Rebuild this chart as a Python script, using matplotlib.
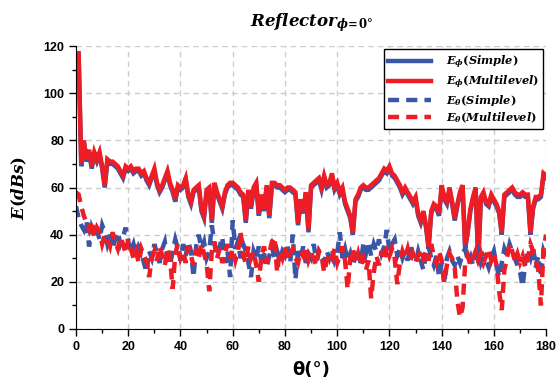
import numpy as np
import matplotlib.pyplot as plt

plt.rcParams['mathtext.fontset'] = 'custom'
plt.rcParams['mathtext.it'] = 'DejaVu Serif:italic:bold'
plt.rcParams['mathtext.rm'] = 'DejaVu Serif:bold'
plt.rcParams['mathtext.bf'] = 'DejaVu Serif:bold'

theta = np.arange(0, 181)

# E_phi (Multilevel), 1 grado de paso
ephi_multi = [117, 117, 70, 80, 72, 76, 69, 75, 72, 75,
              69, 61, 72, 71, 71, 70, 69, 67, 65, 69,
              68, 69, 67, 68, 68, 66, 67, 64, 62, 65,
              68, 62, 59, 61, 64, 67, 62, 59, 55, 61,
              60, 61, 64, 57, 54, 59, 60, 61, 51, 48,
              59, 60, 46, 62, 58, 55, 52, 58, 61, 62,
              62, 61, 60, 58, 57, 46, 59, 52, 60, 62,
              49, 57, 51, 61, 48, 62, 62, 61, 61, 60,
              59, 60, 60, 59, 58, 45, 55, 50, 58, 42,
              61, 62, 63, 64, 60, 65, 61, 62, 66, 60,
              62, 58, 60, 54, 51, 48, 41, 55, 57, 60,
              61, 60, 60, 61, 62, 63, 64, 66, 68, 67,
              69, 66, 65, 63, 61, 58, 60, 58, 56, 54,
              56, 49, 46, 50, 44, 35, 50, 53, 52, 49,
              61, 56, 54, 60, 54, 47, 53, 58, 61, 35,
              42, 51, 56, 60, 29, 56, 58, 54, 53, 57,
              55, 53, 50, 41, 57, 58, 59, 60, 58, 57,
              57, 58, 57, 57, 41, 52, 56, 56, 57, 66,
              65]

# E_phi (Simple): casi igual, algo mas bajo en algunos tramos
ephi_simple = [116, 116, 69, 79, 71, 75, 68, 74, 71, 74,
               68, 60, 71, 70, 70, 69, 68, 66, 64, 68,
               67, 68, 66, 67, 67, 65, 66, 63, 61, 64,
               67, 61, 58, 60, 63, 66, 61, 58, 54, 60,
               59, 60, 63, 56, 53, 58, 59, 60, 50, 47,
               58, 59, 45, 61, 57, 54, 51, 57, 60, 61,
               61, 60, 59, 57, 56, 45, 58, 51, 59, 61,
               48, 56, 50, 60, 47, 61, 61, 60, 60, 59,
               58, 59, 59, 58, 57, 44, 54, 49, 57, 41,
               60, 61, 62, 63, 59, 64, 60, 61, 65, 59,
               61, 57, 59, 53, 50, 47, 40, 54, 56, 59,
               60, 59, 59, 60, 61, 62, 63, 65, 67, 66,
               68, 65, 64, 62, 60, 57, 59, 57, 55, 53,
               55, 48, 45, 49, 43, 34, 49, 52, 51, 48,
               60, 55, 53, 59, 53, 46, 52, 57, 60, 34,
               41, 50, 55, 59, 28, 55, 57, 53, 52, 56,
               54, 52, 49, 40, 56, 57, 58, 59, 57, 56,
               56, 57, 56, 56, 40, 51, 55, 55, 56, 65,
               64]

# E_theta (Simple)
eth_simple = [52, 47, 44, 42, 46, 35, 43, 40, 42, 38,
              44, 41, 36, 40, 34, 38, 41, 36, 39, 43,
              37, 33, 36, 31, 35, 33, 28, 24, 33, 30,
              36, 32, 28, 34, 37, 30, 27, 33, 38, 34,
              29, 36, 31, 37, 33, 22, 35, 40, 34, 37,
              30, 33, 44, 36, 31, 35, 39, 28, 33, 22,
              46, 34, 37, 30, 36, 33, 28, 22, 33, 30,
              35, 28, 32, 26, 31, 35, 30, 33, 29, 33,
              31, 35, 28, 40, 21, 33, 30, 35, 28, 32,
              30, 36, 29, 33, 31, 28, 33, 30, 34, 29,
              32, 41, 30, 34, 29, 32, 27, 31, 34, 28,
              36, 32, 37, 31, 36, 33, 38, 32, 35, 42,
              33, 36, 38, 31, 34, 30, 33, 29, 35, 31,
              28, 33, 29, 25, 32, 35, 30, 27, 31, 22,
              28, 19, 30, 33, 29, 27, 31, 28, 32, 34,
              29, 31, 27, 30, 33, 28, 31, 29, 26, 30,
              33, 27, 22, 28, 34, 31, 36, 33, 30, 27,
              24, 18, 28, 33, 30, 35, 26, 31, 22, 33,
              30]

# E_theta (Multilevel)
eth_multi = [58, 57, 52, 48, 45, 42, 46, 39, 43, 41,
             36, 40, 38, 35, 41, 37, 34, 39, 36, 32,
             38, 34, 30, 33, 28, 34, 31, 29, 22, 30,
             33, 29, 35, 31, 27, 34, 30, 17, 32, 36,
             30, 33, 28, 35, 31, 27, 34, 30, 36, 32,
             28, 16, 33, 37, 30, 34, 28, 32, 36, 30,
             34, 29, 33, 41, 31, 28, 35, 30, 33, 27,
             20, 31, 35, 28, 32, 37, 39, 24, 33, 30,
             35, 29, 32, 34, 30, 28, 33, 31, 35, 29,
             32, 30, 27, 33, 31, 24, 29, 32, 30, 34,
             28, 31, 35, 29, 17, 30, 34, 28, 32, 27,
             30, 25, 29, 13, 24, 31, 27, 33, 29, 35,
             31, 34, 30, 19, 28, 33, 30, 34, 29, 32,
             28, 31, 34, 30, 33, 29, 36, 31, 28, 33,
             29, 20, 27, 32, 30, 26, 12, 5, 9, 28,
             31, 27, 30, 33, 29, 32, 28, 31, 34, 29,
             32, 27, 16, 8, 25, 30, 36, 33, 29, 32,
             28, 31, 26, 30, 36, 33, 29, 25, 10, 34,
             40]

azul = '#3a56a6'
rojo = '#ee1c25'

fig = plt.figure(figsize=(5.59, 3.87), dpi=100)
ax = fig.add_axes([0.136, 0.150, 0.841, 0.731])

estilo = dict(lw=3.2, solid_joinstyle='miter', dash_joinstyle='miter',
              dash_capstyle='butt')
ax.plot(theta, ephi_simple, color=azul, label=r'$E_\phi(Simple)$', **estilo)
ax.plot(theta, ephi_multi, color=rojo, label=r'$E_\phi(Multilevel)$', **estilo)
ax.plot(theta, eth_simple, color=azul, ls=(0, (2.5, 1.6)),
        label=r'$E_\theta(Simple)$', **estilo)
ax.plot(theta, eth_multi, color=rojo, ls=(0, (2.5, 1.6)),
        label=r'$E_\theta(Multilevel)$', **estilo)

ax.set_xlim(0, 180)
ax.set_ylim(0, 120)
ax.set_xticks(np.arange(0, 181, 20))
ax.set_xticks(np.arange(10, 180, 20), minor=True)
ax.set_yticks(np.arange(0, 121, 20))
ax.set_yticks(np.arange(10, 120, 20), minor=True)
ax.tick_params(which='major', direction='out', length=5, width=1)
ax.tick_params(which='minor', direction='out', length=3, width=1)
for lbl in ax.get_xticklabels() + ax.get_yticklabels():
    lbl.set_fontfamily('Liberation Sans')
    lbl.set_fontweight('bold')
    lbl.set_fontsize(9)

ax.spines['top'].set_visible(False)
ax.spines['right'].set_visible(False)
ax.grid(True, which='major', color='#cccccc', ls=(0, (4, 3)), lw=1)
ax.set_axisbelow(True)

ax.set_title(r'$Reflector_{\phi\!=\!0°}$', fontsize=12, pad=14)
ax.set_ylabel(r'$E(dBs)$', fontsize=12, labelpad=10)
ax.set_xlabel('θ(°)', fontsize=13, fontweight='bold', family='DejaVu Sans',
              labelpad=6)

leg = ax.legend(loc='upper right', fontsize=8.2, frameon=True, fancybox=False,
                framealpha=1, edgecolor='black', handlelength=3.8,
                borderaxespad=0.3, labelspacing=0.2, handletextpad=1.3,
                borderpad=0.35)
leg.get_frame().set_linewidth(1)

fig.savefig('out.png', dpi=100)
